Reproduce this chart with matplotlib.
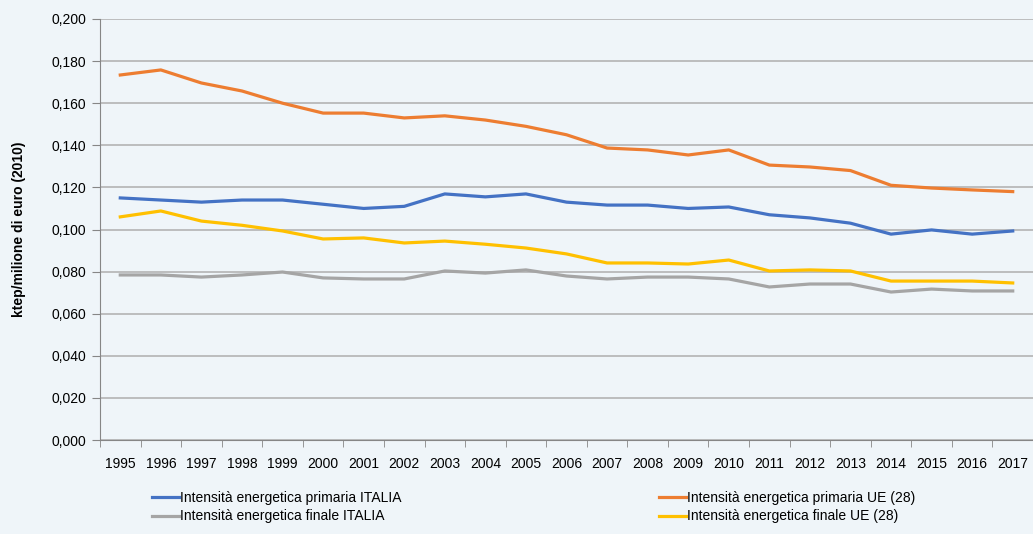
import matplotlib.pyplot as plt
import numpy as np

plt.rcParams['font.family'] = ['Liberation Sans', 'DejaVu Sans']

years = [str(y) for y in range(1995, 2018)]

primaria_italia = [0.1150, 0.1140, 0.1130, 0.1140, 0.1140, 0.1120, 0.1100, 0.1110,
                   0.1169, 0.1155, 0.1169, 0.1130, 0.1116, 0.1116, 0.1100, 0.1107,
                   0.1070, 0.1055, 0.1030, 0.0978, 0.0998, 0.0978, 0.0993]
primaria_ue = [0.1734, 0.1758, 0.1696, 0.1658, 0.1600, 0.1553, 0.1553, 0.1530,
               0.1540, 0.1520, 0.1490, 0.1450, 0.1387, 0.1378, 0.1354, 0.1378,
               0.1306, 0.1297, 0.1280, 0.1210, 0.1197, 0.1188, 0.1180]
finale_italia = [0.0784, 0.0784, 0.0774, 0.0784, 0.0798, 0.0770, 0.0765, 0.0765,
                 0.0803, 0.0793, 0.0808, 0.0779, 0.0765, 0.0774, 0.0774, 0.0765,
                 0.0727, 0.0741, 0.0741, 0.0703, 0.0717, 0.0708, 0.0708]
finale_ue = [0.1060, 0.1088, 0.1040, 0.1020, 0.0993, 0.0955, 0.0960, 0.0936,
             0.0945, 0.0930, 0.0912, 0.0884, 0.0841, 0.0841, 0.0836, 0.0855,
             0.0803, 0.0808, 0.0803, 0.0755, 0.0755, 0.0755, 0.0746]

bg = '#EFF5F9'
fig = plt.figure(figsize=(10.33, 5.34), dpi=100, facecolor=bg)
ax = fig.add_axes([100 / 1033, 94 / 534, 933 / 1033, 421 / 534], facecolor=bg)

x = np.arange(len(years))
lw = 2.3
l1, = ax.plot(x, primaria_italia, color='#4472C4', lw=lw, label='Intensità energetica primaria ITALIA')
l2, = ax.plot(x, primaria_ue, color='#ED7D31', lw=lw, label='Intensità energetica primaria UE (28)')
l3, = ax.plot(x, finale_italia, color='#A5A5A5', lw=lw, label='Intensità energetica finale ITALIA')
l4, = ax.plot(x, finale_ue, color='#FFC000', lw=lw, label='Intensità energetica finale UE (28)')

ax.set_xlim(-0.5, len(years) - 0.5)
ax.set_ylim(0, 0.2)
yt = np.arange(0, 0.2001, 0.02)
ax.set_yticks(yt)
ax.set_yticklabels([f'{v:.3f}'.replace('.', ',') for v in yt], fontsize=10)
ax.set_xticks(x)
ax.set_xticklabels(years, fontsize=10)
ax.set_xticks(np.arange(-0.5, len(years)), minor=True)
ax.tick_params(axis='x', which='major', length=0, pad=12)
ax.tick_params(axis='x', which='minor', length=5, color='#868686')
ax.tick_params(axis='y', length=6, color='#868686', pad=4)
ax.grid(axis='y', color='#AEAEAE', lw=1.1)
ax.set_axisbelow(True)
for s in ['top', 'right']:
    ax.spines[s].set_visible(False)
for s in ['left', 'bottom']:
    ax.spines[s].set_color('#868686')
ax.set_ylabel('ktep/milione di euro (2010)', fontsize=10, fontweight='bold', labelpad=18)

leg_kw = dict(frameon=False, fontsize=10, handlelength=2.0, handletextpad=0.05,
              labelspacing=0.35, borderaxespad=0)
fig.legend(handles=[l1, l3], loc='upper left', bbox_to_anchor=(146 / 1033, 1 - 485 / 534), **leg_kw)
fig.legend(handles=[l2, l4], loc='upper left', bbox_to_anchor=(653 / 1033, 1 - 485 / 534), **leg_kw)

fig.savefig('out.png', dpi=100, facecolor=bg)
